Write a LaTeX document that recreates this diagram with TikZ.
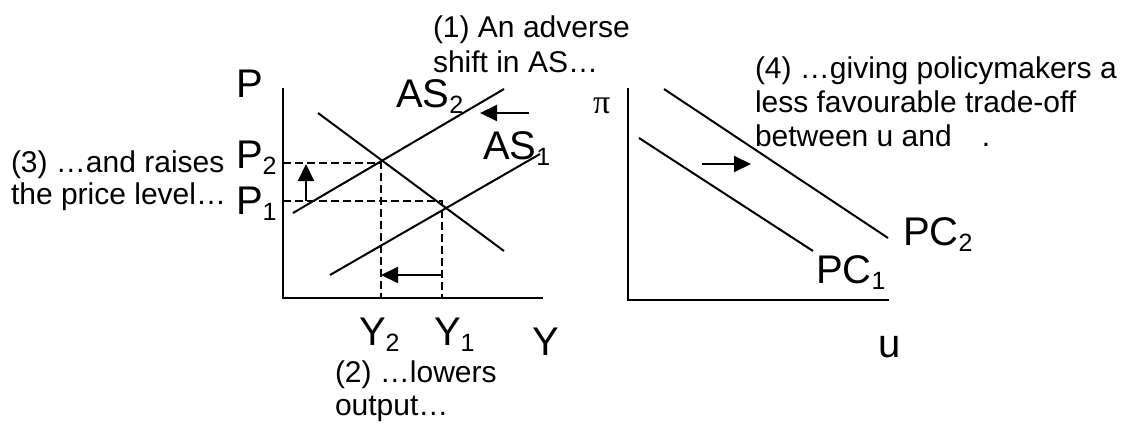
\documentclass[tikz,border=0pt]{standalone}
\usepackage{graphicx}
\usepackage{fontspec}
\setmainfont{Liberation Sans}
\newfontfamily\pifont{Liberation Serif}
\usetikzlibrary{arrows.meta}
\newcommand{\sm}[1]{{\fontsize{30}{34}\selectfont #1}}
\newcommand{\bg}[2]{{\fontsize{40}{46}\selectfont #1\raisebox{-6pt}{\fontsize{25}{28}\selectfont #2}}}
\tikzset{
  txt/.style={inner sep=0pt, outer sep=0pt, anchor=base west},
  axisline/.style={line width=2.2pt, line cap=rect},
  curve/.style={line width=2pt},
  guide/.style={line width=1.8pt, dash pattern=on 7.5pt off 4.5pt},
  shiftarrow/.style={line width=2pt, -{Triangle[length=17pt,width=16pt]}}
}
\begin{document}
\begin{tikzpicture}[x=1pt,y=-1pt]
\useasboundingbox (0,0) rectangle (1130,426);
% ---------- left panel ----------
\coordinate (yaxL) at (283,89);
\coordinate (oL) at (283,298);
\coordinate (xaxL) at (542,298);
\draw[axisline] (yaxL) -- (oL) -- (xaxL);
\coordinate (as2a) at (293,213); \coordinate (as2b) at (504,89);
\coordinate (ada) at (318,113);  \coordinate (adb) at (504,251);
\coordinate (as1a) at (330,275); \coordinate (as1b) at (540,154);
\draw[curve] (as2a) -- (as2b);
\draw[curve] (ada) -- (adb);
\draw[curve] (as1a) -- (as1b);
\coordinate (p2l) at (283,163); \coordinate (e2) at (381,163); \coordinate (y2b) at (381,298);
\coordinate (p1l) at (283,201); \coordinate (e1) at (442,201); \coordinate (y1b) at (442,298);
\draw[guide] (p2l) -- (e2) -- (y2b);
\draw[guide] (p1l) -- (e1) -- (y1b);
\coordinate (ua) at (306,201); \coordinate (ub) at (306,164);
\draw[shiftarrow] (ua) -- (ub);
\coordinate (ba) at (442,275); \coordinate (bb) at (381,275);
\draw[shiftarrow] (ba) -- (bb);
\coordinate (ta) at (529,113); \coordinate (tb) at (480,113);
\draw[shiftarrow] (ta) -- (tb);
\node[txt] (lP) at (236,97) {\bg{P}{}};
\node[txt] (lP2) at (236,168) {\bg{P}{2}};
\node[txt] (lP1) at (236,214) {\bg{P}{1}};
\node[txt] (lAS2) at (396,107) {\bg{AS}{2}};
\node[txt] (lAS1) at (483,159) {\bg{AS}{1}};
\node[txt] (lY2) at (359,345) {\bg{Y}{2}};
\node[txt] (lY1) at (434,345) {\bg{Y}{1}};
\node[txt] (lY) at (532,355) {\bg{Y}{}};
% ---------- right panel ----------
\coordinate (yaxR) at (628,89);
\coordinate (oR) at (628,300);
\coordinate (xaxR) at (888,300);
\draw[axisline] (yaxR) -- (oR) -- (xaxR);
\coordinate (pc2a) at (664,89); \coordinate (pc2b) at (888,238);
\coordinate (pc1a) at (639,138); \coordinate (pc1b) at (813,251);
\draw[curve] (pc2a) -- (pc2b);
\draw[curve] (pc1a) -- (pc1b);
\coordinate (ra) at (702,164); \coordinate (rb) at (751,164);
\draw[shiftarrow] (ra) -- (rb);
\node[txt] (lpi) at (593,113) {\pifont\fontsize{34}{38}\selectfont π};
\node[txt] (lPC1) at (816,283) {\bg{PC}{1}};
\node[txt] (lPC2) at (903,245) {\bg{PC}{2}};
\node[txt] (lu) at (878,357) {\bg{u}{}};
% ---------- annotations ----------
\node[txt] (n1a) at (433,37) {\sm{(1) An adverse}};
\node[txt] (n1b) at (433,72) {\sm{shift in AS…}};
\node[txt] (n2a) at (335,382) {\sm{(2) …lowers}};
\node[txt] (n2b) at (335,415) {\sm{output…}};
\node[txt] (n3a) at (11,172) {\sm{(3) …and raises}};
\node[txt] (n3b) at (11,204) {\sm{the price level…}};
\node[txt] (n4a) at (755,78) {\sm{(4) …giving policymakers a}};
\node[txt] (n4b) at (755,112) {\sm{less favourable trade-off}};
\node[txt] (n4c) at (755,146) {\sm{between u and\hspace{30pt}.}};
\end{tikzpicture}
\end{document}
